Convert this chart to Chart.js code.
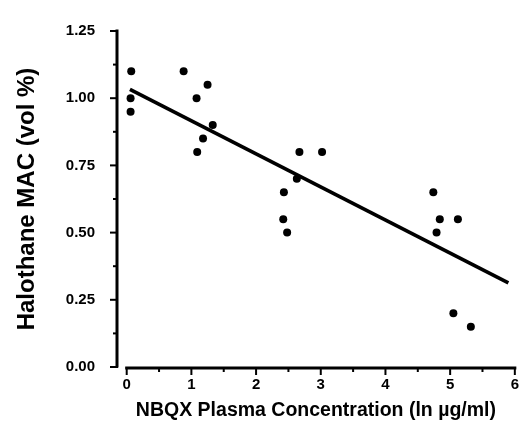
<!DOCTYPE html>
<html>
<head>
<meta charset="utf-8">
<script src="https://cdn.jsdelivr.net/npm/chart.js@4"></script>
<style>
  html, body { margin: 0; padding: 0; background: #fff; }
  #wrap { width: 528px; height: 432px; }
</style>
</head>
<body>
<div id="wrap"><canvas id="mac-chart"></canvas></div>
<script>
// NBQX plasma concentration (ln ug/ml) vs halothane MAC (vol %)
const concentration = [0.07, 0.06, 0.06, 0.88, 1.25, 1.08, 1.33, 1.18, 1.09,
    2.67, 3.02, 2.63, 2.43, 2.42, 2.48, 4.74, 4.84, 5.12, 4.79, 5.05, 5.32];
const macValues = [1.10, 1.00, 0.95, 1.10, 1.05, 1.00, 0.90, 0.85, 0.80,
    0.80, 0.80, 0.70, 0.65, 0.55, 0.50, 0.65, 0.55, 0.55, 0.50, 0.20, 0.15];

// regression line end points
const fitX = [0.05, 5.9];
const fitY = [1.033, 0.313];

// axis ticks
const xTickValues = [0, 1, 2, 3, 4, 5, 6];
const xMinorTicks = [0.5, 1.5, 2.5, 3.5, 4.5, 5.5];
const yTickValues = [0, 0.25, 0.5, 0.75, 1.0, 1.25];
const yMinorTicks = [0.125, 0.375, 0.625, 0.875, 1.125];

const fontFamily = '"Liberation Sans", Arial, sans-serif';

// draws the offset axis lines and tick marks like the original figure
const axisPlugin = {
    id: 'axisLines',
    afterDraw(chart) {
        const ctx = chart.ctx;
        const xs = chart.scales.x;
        const ys = chart.scales.y;
        const left = chart.chartArea.left;
        const base = chart.chartArea.bottom + 1;
        ctx.save();
        ctx.strokeStyle = '#000';
        ctx.lineCap = 'square';

        // y axis
        ctx.lineWidth = 3;
        ctx.beginPath();
        ctx.moveTo(left, ys.getPixelForValue(1.25));
        ctx.lineTo(left, ys.getPixelForValue(0) - 1);
        ctx.stroke();
        ctx.lineWidth = 2;
        yTickValues.forEach(v => {
            const y = ys.getPixelForValue(v);
            ctx.beginPath();
            ctx.moveTo(left, y);
            ctx.lineTo(left - 6, y);
            ctx.stroke();
        });
        yMinorTicks.forEach(v => {
            const y = ys.getPixelForValue(v);
            ctx.beginPath();
            ctx.moveTo(left, y);
            ctx.lineTo(left - 3, y);
            ctx.stroke();
        });

        // x axis
        ctx.lineWidth = 3;
        ctx.beginPath();
        ctx.moveTo(xs.getPixelForValue(0), base);
        ctx.lineTo(xs.getPixelForValue(6), base);
        ctx.stroke();
        ctx.lineWidth = 2;
        xTickValues.forEach(v => {
            const x = xs.getPixelForValue(v);
            ctx.beginPath();
            ctx.moveTo(x, base);
            ctx.lineTo(x, base + 6);
            ctx.stroke();
        });
        xMinorTicks.forEach(v => {
            const x = xs.getPixelForValue(v);
            ctx.beginPath();
            ctx.moveTo(x, base);
            ctx.lineTo(x, base + 3);
            ctx.stroke();
        });
        ctx.restore();
    }
};

const canvas = document.getElementById('mac-chart');

new Chart(canvas, {
    type: 'scatter',
    data: {
        datasets: [
            {
                label: 'MAC',
                data: concentration.map((x, i) => ({ x: x, y: macValues[i] })),
                backgroundColor: '#000',
                borderColor: '#000',
                pointRadius: 4,
                pointHoverRadius: 4,
                borderWidth: 0,
            },
            {
                label: 'Regression',
                type: 'line',
                data: fitX.map((x, i) => ({ x: x, y: fitY[i] })),
                borderColor: '#000',
                borderWidth: 3.6,
                pointRadius: 0,
                fill: false,
            },
        ],
    },
    options: {
        responsive: true,
        maintainAspectRatio: false,
        animation: false,
        layout: {
            padding: { top: 23, right: 5, left: 0, bottom: 0 },
        },
        plugins: {
            legend: { display: false },
            tooltip: { enabled: false },
        },
        scales: {
            x: {
                type: 'linear',
                min: -0.15,
                max: 6,
                border: { display: false },
                grid: { display: false, drawTicks: false },
                afterBuildTicks: scale => {
                    scale.ticks = xTickValues.map(v => ({ value: v }));
                },
                afterFit: scale => { scale.height = 65; },
                ticks: {
                    padding: 9,
                    color: '#000',
                    font: { family: fontFamily, size: 15, weight: 'bold' },
                    callback: v => String(v),
                },
                title: {
                    display: true,
                    text: 'NBQX Plasma Concentration (ln \u00b5g/ml)',
                    color: '#000',
                    padding: { top: 0, bottom: 10 },
                    font: { family: fontFamily, size: 19.5, weight: 'bold' },
                },
            },
            y: {
                type: 'linear',
                min: 0,
                max: 1.25,
                border: { display: false },
                grid: { display: false, drawTicks: false },
                afterBuildTicks: scale => {
                    scale.ticks = yTickValues.map(v => ({ value: v }));
                },
                afterFit: scale => { scale.width = 117; },
                ticks: {
                    padding: 22,
                    color: '#000',
                    font: { family: fontFamily, size: 15, weight: 'bold' },
                    callback: v => Number(v).toFixed(2),
                },
                title: {
                    display: true,
                    text: 'Halothane MAC (vol %)',
                    color: '#000',
                    padding: { top: 13, bottom: 0 },
                    font: { family: fontFamily, size: 24, weight: 'bold' },
                },
            },
        },
    },
    plugins: [axisPlugin],
});
</script>
</body>
</html>
